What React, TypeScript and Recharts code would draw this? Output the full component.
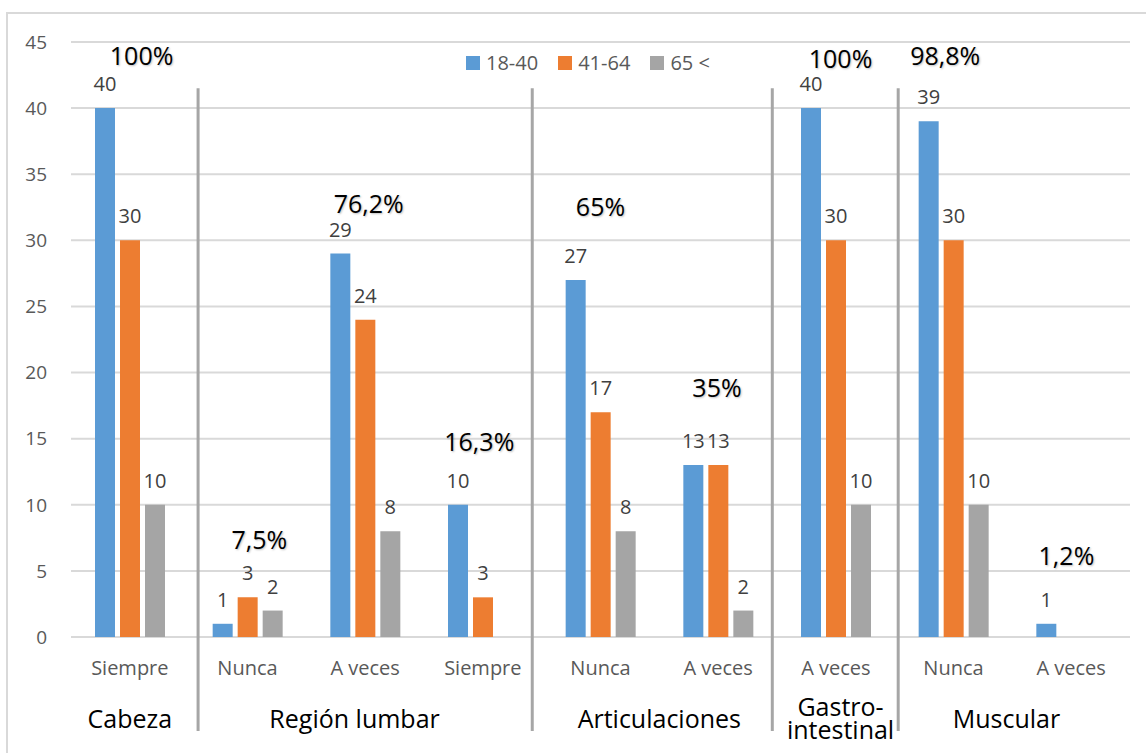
import {
  BarChart,
  Bar,
  XAxis,
  YAxis,
  CartesianGrid,
  Legend,
  LabelList,
  ReferenceLine,
  ReferenceDot,
} from "recharts";

// frecuencia del dolor por zona y grupo de edad
const categories = ["Siempre", "Nunca", "A veces", "Siempre", "Nunca", "A veces", "A veces", "Nunca", "A veces"];
const edad18a40 = [40, 1, 29, 10, 27, 13, 40, 39, 1];
const edad41a64 = [30, 3, 24, 3, 17, 13, 30, 30, 0];
const edad65 = [10, 2, 8, 0, 8, 2, 10, 10, 0];
const seriesNames = ["18-40", "41-64", "65 <"];
const yTicks = [0, 5, 10, 15, 20, 25, 30, 35, 40, 45];

const zonas = ["Cabeza", "Región lumbar", "Articulaciones", "Gastro-\nintestinal", "Muscular"];
const porcentajes = ["100%", "7,5%", "76,2%", "16,3%", "65%", "35%", "100%", "98,8%", "1,2%"];

// placement on the helper axis (x in category slots, y in chart units)
const zonaX = [0.5, 2.41, 5.0, 6.54, 7.95];
const zonaY = -6.2;
const porcentajeAt = [
  [0.6, 43.9],
  [1.6, 7.3],
  [2.53, 32.7],
  [3.47, 14.7],
  [4.5, 32.5],
  [5.49, 18.8],
  [6.54, 43.7],
  [7.43, 43.9],
  [8.46, 6.1],
];
const separadores = [1.08, 3.92, 5.96, 7.03];

const COLORS = ["#5B9BD5", "#ED7D31", "#A5A5A5"];
const FONT = "'Open Sans', 'Noto Sans', sans-serif";

const data = categories.map((c, i) => ({
  cat: c,
  slot: i + 0.5,
  a: edad18a40[i],
  b: edad41a64[i],
  c: edad65[i],
}));

const hideZero = (v: any) => (v ? v : "");

function ZonaLabel(props: any) {
  const { viewBox, value } = props;
  const cx = viewBox.x + (viewBox.width || 0) / 2;
  const cy = viewBox.y + (viewBox.height || 0) / 2;
  const lines = String(value).split("\n");
  const lh = 23;
  const start = cy - ((lines.length - 1) * lh) / 2;
  return (
    <text x={cx} textAnchor="middle" fill="#000" fontSize={25} fontFamily={FONT}>
      {lines.map((l, i) => (
        <tspan key={i} x={cx} y={start + i * lh} dy="0.35em">
          {l}
        </tspan>
      ))}
    </text>
  );
}

function PctLabel(props: any) {
  const { viewBox, value } = props;
  const cx = viewBox.x + (viewBox.width || 0) / 2;
  const cy = viewBox.y + (viewBox.height || 0) / 2;
  return (
    <text
      x={cx}
      y={cy}
      dy="0.35em"
      textAnchor="middle"
      fill="#000"
      fontSize={25}
      fontFamily={FONT}
      style={{ textShadow: "1px 1px 2px rgba(0,0,0,0.25)" }}
    >
      {value}
    </text>
  );
}

function LegendBox() {
  return (
    <div style={{ display: "flex", alignItems: "center", fontFamily: FONT, fontSize: 20, color: "#595959" }}>
      {seriesNames.map((n, i) => (
        <div key={n} style={{ display: "flex", alignItems: "center", marginRight: 20 }}>
          <span style={{ width: 14, height: 14, background: COLORS[i], marginRight: 6, display: "inline-block" }} />
          <span style={{ lineHeight: "20px" }}>{n}</span>
        </div>
      ))}
    </div>
  );
}

export default function App() {
  return (
    <div
      style={{
        position: "fixed",
        left: 0,
        top: 0,
        width: 1146,
        height: 753,
        overflow: "hidden",
        background: "#fff",
        fontFamily: FONT,
      }}
    >
      <div
        style={{
          position: "absolute",
          left: 6,
          top: 12,
          width: 1200,
          height: 800,
          border: "2px solid #d9d9d9",
        }}
      />
      <div style={{ position: "absolute", left: 0, top: 0 }}>
        <BarChart
          width={1146}
          height={753}
          data={data}
          margin={{ top: 42, right: 16, bottom: 86, left: 11 }}
          barSize={20}
          barGap={5}
        >
          <CartesianGrid vertical={false} stroke="#d9d9d9" strokeWidth={2} />
          <XAxis
            dataKey="cat"
            axisLine={false}
            tickLine={false}
            tickSize={0}
            tickMargin={24}
            interval={0}
            tick={{ fill: "#595959", fontSize: 20 }}
          />
          <XAxis
            xAxisId="sep"
            dataKey="slot"
            type="number"
            domain={[0, 9]}
            ticks={[0, 3, 6, 9]}
            allowDataOverflow
            hide
          />
          <YAxis
            domain={[0, 45]}
            ticks={yTicks}
            width={60}
            axisLine={false}
            tickLine={false}
            tickSize={0}
            tickMargin={24}
            tick={{ fill: "#595959", fontSize: 19 }}
          />
          <Legend
            layout="horizontal"
            verticalAlign="middle"
            align="center"
            wrapperStyle={{ left: 466, top: 53, width: "auto" }}
            content={() => <LegendBox />}
          />
          {separadores.map((x, i) => (
            <ReferenceLine
              key={`sep${i}`}
              xAxisId="sep"
              segment={[
                { x, y: 41.5 },
                { x, y: -7.1 },
              ]}
              ifOverflow="visible"
              stroke="#a6a6a6"
              strokeWidth={3}
            />
          ))}
          <Bar dataKey="a" name={seriesNames[0]} fill={COLORS[0]} isAnimationActive={false}>
            <LabelList dataKey="a" position="top" offset={17} fill="#404040" fontSize={20} formatter={hideZero} />
          </Bar>
          <Bar dataKey="b" name={seriesNames[1]} fill={COLORS[1]} isAnimationActive={false}>
            <LabelList dataKey="b" position="top" offset={17} fill="#404040" fontSize={20} formatter={hideZero} />
          </Bar>
          <Bar dataKey="c" name={seriesNames[2]} fill={COLORS[2]} isAnimationActive={false}>
            <LabelList dataKey="c" position="top" offset={17} fill="#404040" fontSize={20} formatter={hideZero} />
          </Bar>
          {zonas.map((z, i) => (
            <ReferenceDot
              key={`zona${i}`}
              xAxisId="sep"
              x={zonaX[i]}
              y={zonaY}
              r={0}
              fill="none"
              stroke="none"
              ifOverflow="visible"
              label={<ZonaLabel value={z} />}
            />
          ))}
          {porcentajes.map((p, i) => (
            <ReferenceDot
              key={`pct${i}`}
              xAxisId="sep"
              x={porcentajeAt[i][0]}
              y={porcentajeAt[i][1]}
              r={0}
              fill="none"
              stroke="none"
              ifOverflow="visible"
              label={<PctLabel value={p} />}
            />
          ))}
        </BarChart>
      </div>
    </div>
  );
}
